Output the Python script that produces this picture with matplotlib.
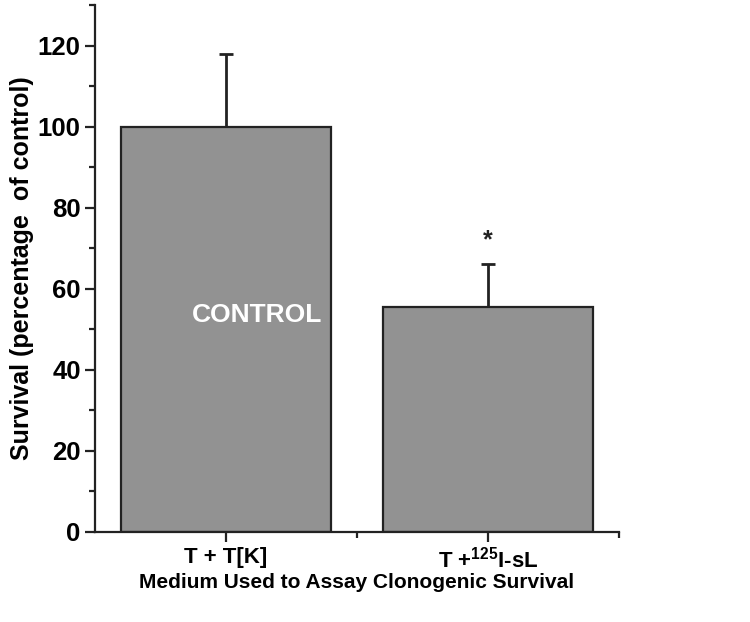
import matplotlib
matplotlib.use("Agg")
import matplotlib.pyplot as plt
from matplotlib.ticker import MultipleLocator, FixedLocator

plt.rcParams['font.family'] = ['Liberation Sans', 'DejaVu Sans']
plt.rcParams['font.weight'] = 'bold'
plt.rcParams['mathtext.fontset'] = 'custom'
plt.rcParams['mathtext.rm'] = 'Liberation Sans:bold'
plt.rcParams['mathtext.bf'] = 'Liberation Sans:bold'
plt.rcParams['mathtext.default'] = 'rm'

categories = ["T + T[K]", "T +$^{125}$I-sL"]
values = [100.0, 55.5]
errors_up = [18.0, 10.5]
bar_text = "CONTROL"
significance = ["", "*"]

fig = plt.figure(figsize=(7.5, 6.22), dpi=100)
ax = fig.add_axes([0.127, 0.145, 0.698, 0.847])

x = list(range(len(categories)))
ax.bar(x, values, width=0.8, color='#929292', edgecolor='#222222', linewidth=1.6, zorder=2)
ax.errorbar(x, values, yerr=[[0]*len(values), errors_up], fmt='none', ecolor='#222222',
            elinewidth=2, capsize=5, capthick=2, zorder=1)

ax.text(0.12, 53.5, bar_text, color='white', fontsize=19, fontweight='bold', ha='center', va='center')
for xi, v, e, s in zip(x, values, errors_up, significance):
    if s:
        ax.text(xi, v + e + 3, s, fontsize=18, fontweight='bold', ha='center', va='bottom', color='#222222')

ax.set_xlim(-0.5, 1.5)
ax.set_ylim(0, 130)
ax.yaxis.set_major_locator(FixedLocator([0, 20, 40, 60, 80, 100, 120]))
ax.yaxis.set_minor_locator(MultipleLocator(10))
ax.set_xticks(x)
ax.set_xticklabels(categories, fontsize=16, fontweight='bold')
ax.xaxis.set_minor_locator(FixedLocator([0.5, 1.5]))

ax.tick_params(axis='both', which='major', length=7, width=1.6, color='#222222', labelsize=18.5)
ax.tick_params(axis='x', which='major', labelsize=16, pad=4)
ax.tick_params(axis='both', which='minor', length=4, width=1.6, color='#222222')
for lab in ax.get_yticklabels():
    lab.set_fontweight('bold')

for sp in ['top', 'right']:
    ax.spines[sp].set_visible(False)
for sp in ['left', 'bottom']:
    ax.spines[sp].set_linewidth(1.6)
    ax.spines[sp].set_color('#222222')

ax.set_ylabel("Survival (percentage  of control)", fontsize=18, fontweight='bold', labelpad=3)
ax.set_xlabel("Medium Used to Assay Clonogenic Survival", fontsize=15, fontweight='bold', labelpad=0)

fig.savefig("out.png", dpi=100)
